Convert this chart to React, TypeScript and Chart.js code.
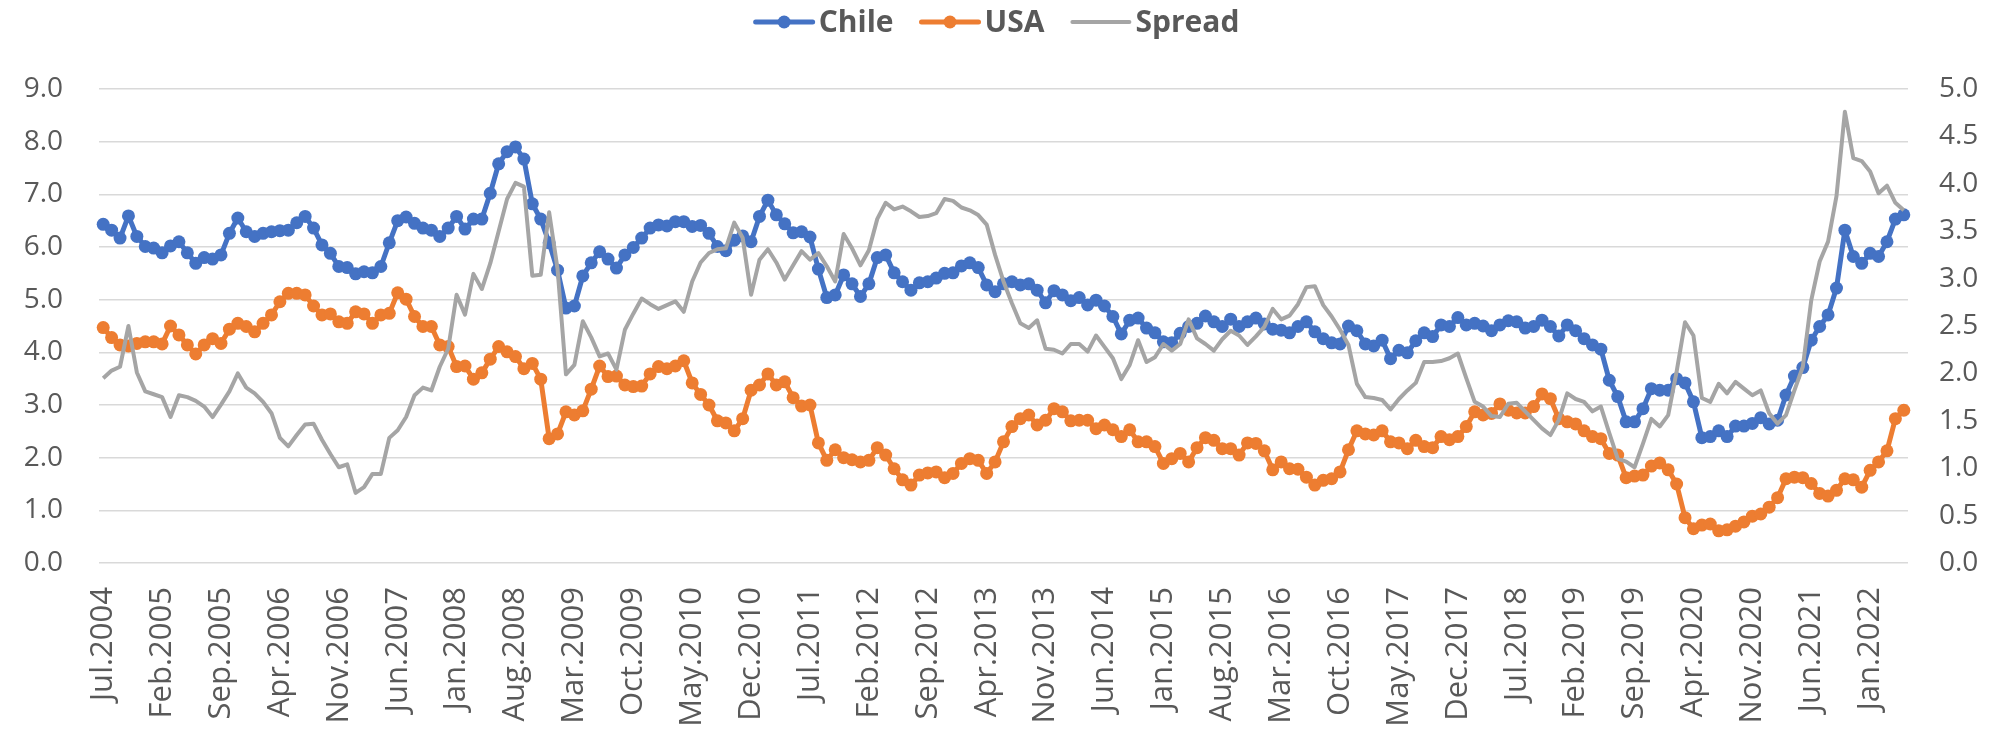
import React, { useEffect, useRef } from 'react';
import { Chart, registerables } from 'chart.js';

Chart.register(...registerables);

// Monthly categories: Jul.2004 ... May.2022
const MONTH_NAMES = ['Jan', 'Feb', 'Mar', 'Apr', 'May', 'Jun', 'Jul', 'Aug', 'Sep', 'Oct', 'Nov', 'Dec'];
const START_YEAR = 2004;
const START_MONTH_INDEX = 6; // Jul
const LABEL_STEP = 7;

const chile = [
  6.43, 6.32, 6.17, 6.59, 6.20, 6.01, 5.98, 5.89, 6.02, 6.10,
  5.89, 5.69, 5.80, 5.77, 5.85, 6.26, 6.55, 6.29, 6.20, 6.26,
  6.29, 6.31, 6.32, 6.46, 6.58, 6.36, 6.04, 5.88, 5.63, 5.61,
  5.49, 5.53, 5.51, 5.63, 6.08, 6.50, 6.57, 6.45, 6.36, 6.32,
  6.20, 6.36, 6.58, 6.34, 6.53, 6.53, 7.02, 7.58, 7.81, 7.90,
  7.67, 6.82, 6.53, 6.08, 5.56, 4.84, 4.88, 5.45, 5.70, 5.91,
  5.77, 5.60, 5.85, 5.99, 6.17, 6.36, 6.42, 6.40, 6.48, 6.48,
  6.39, 6.41, 6.26, 6.01, 5.93, 6.13, 6.21, 6.10, 6.58, 6.89,
  6.61, 6.44, 6.27, 6.29, 6.19, 5.58, 5.04, 5.09, 5.47, 5.30,
  5.06, 5.30, 5.80, 5.85, 5.51, 5.34, 5.18, 5.32, 5.34, 5.41,
  5.50, 5.51, 5.64, 5.70, 5.61, 5.28, 5.15, 5.30, 5.34, 5.28,
  5.30, 5.18, 4.94, 5.17, 5.09, 4.98, 5.04, 4.90, 4.99, 4.88,
  4.68, 4.35, 4.61, 4.65, 4.46, 4.37, 4.20, 4.18, 4.36, 4.49,
  4.55, 4.69, 4.58, 4.49, 4.63, 4.49, 4.58, 4.65, 4.54, 4.44,
  4.42, 4.37, 4.49, 4.58, 4.39, 4.26, 4.18, 4.16, 4.50, 4.41,
  4.16, 4.12, 4.23, 3.88, 4.04, 3.99, 4.22, 4.37, 4.30, 4.52,
  4.49, 4.66, 4.52, 4.55, 4.50, 4.41, 4.52, 4.60, 4.58, 4.46,
  4.49, 4.61, 4.49, 4.31, 4.52, 4.41, 4.26, 4.14, 4.06, 3.47,
  3.16, 2.68, 2.68, 2.93, 3.31, 3.28, 3.28, 3.50, 3.42, 3.06,
  2.38, 2.40, 2.51, 2.40, 2.60, 2.60, 2.65, 2.76, 2.64, 2.71,
  3.19, 3.55, 3.71, 4.23, 4.49, 4.71, 5.22, 6.32, 5.82, 5.69,
  5.88, 5.82, 6.10, 6.53, 6.61,
];

const usa = [
  4.47, 4.28, 4.14, 4.12, 4.17, 4.20, 4.20, 4.16, 4.50, 4.33,
  4.14, 3.97, 4.14, 4.26, 4.17, 4.44, 4.55, 4.49, 4.39, 4.55,
  4.71, 4.96, 5.12, 5.12, 5.09, 4.88, 4.71, 4.73, 4.58, 4.55,
  4.77, 4.73, 4.55, 4.71, 4.74, 5.13, 5.01, 4.68, 4.49, 4.49,
  4.14, 4.11, 3.73, 3.74, 3.49, 3.61, 3.87, 4.11, 4.01, 3.92,
  3.69, 3.79, 3.49, 2.36, 2.45, 2.87, 2.81, 2.89, 3.30, 3.74,
  3.54, 3.55, 3.38, 3.35, 3.36, 3.59, 3.73, 3.69, 3.74, 3.84,
  3.42, 3.20, 3.00, 2.70, 2.66, 2.51, 2.74, 3.28, 3.38, 3.59,
  3.38, 3.44, 3.14, 2.98, 3.00, 2.28, 1.95, 2.15, 2.00, 1.96,
  1.92, 1.95, 2.19, 2.05, 1.79, 1.58, 1.48, 1.67, 1.71, 1.73,
  1.62, 1.70, 1.89, 1.98, 1.95, 1.70, 1.92, 2.30, 2.59, 2.74,
  2.81, 2.62, 2.71, 2.93, 2.87, 2.70, 2.71, 2.71, 2.55, 2.62,
  2.53, 2.40, 2.53, 2.30, 2.30, 2.21, 1.89, 1.98, 2.08, 1.92,
  2.19, 2.38, 2.33, 2.17, 2.17, 2.05, 2.28, 2.27, 2.13, 1.77,
  1.92, 1.79, 1.78, 1.63, 1.48, 1.57, 1.60, 1.73, 2.15, 2.51,
  2.45, 2.43, 2.51, 2.30, 2.28, 2.17, 2.33, 2.21, 2.19, 2.40,
  2.34, 2.40, 2.59, 2.87, 2.81, 2.84, 3.02, 2.90, 2.85, 2.85,
  2.97, 3.21, 3.12, 2.74, 2.68, 2.64, 2.51, 2.40, 2.36, 2.08,
  2.05, 1.62, 1.65, 1.67, 1.84, 1.90, 1.77, 1.50, 0.86, 0.65,
  0.72, 0.74, 0.61, 0.63, 0.70, 0.78, 0.89, 0.93, 1.06, 1.24,
  1.60, 1.63, 1.62, 1.51, 1.32, 1.27, 1.38, 1.60, 1.58, 1.44,
  1.76, 1.92, 2.13, 2.74, 2.90,
];

const spread = [
  1.95, 2.03, 2.07, 2.50, 2.01, 1.81, 1.78, 1.75, 1.54, 1.77,
  1.75, 1.71, 1.65, 1.54, 1.67, 1.81, 2.00, 1.85, 1.79, 1.70,
  1.58, 1.32, 1.23, 1.35, 1.46, 1.47, 1.30, 1.15, 1.01, 1.04,
  0.74, 0.80, 0.94, 0.94, 1.32, 1.40, 1.54, 1.77, 1.85, 1.82,
  2.07, 2.26, 2.83, 2.62, 3.05, 2.89, 3.16, 3.50, 3.84, 4.01,
  3.97, 3.03, 3.04, 3.70, 3.10, 1.99, 2.09, 2.55, 2.38, 2.18,
  2.21, 2.04, 2.46, 2.63, 2.79, 2.73, 2.68, 2.72, 2.76, 2.65,
  2.97, 3.17, 3.27, 3.31, 3.32, 3.59, 3.43, 2.83, 3.20, 3.31,
  3.17, 2.99, 3.14, 3.29, 3.20, 3.27, 3.13, 2.97, 3.47, 3.32,
  3.14, 3.30, 3.63, 3.80, 3.73, 3.76, 3.71, 3.65, 3.66, 3.69,
  3.84, 3.82, 3.75, 3.72, 3.67, 3.57, 3.25, 2.97, 2.74, 2.53,
  2.48, 2.56, 2.26, 2.25, 2.21, 2.31, 2.31, 2.23, 2.40, 2.28,
  2.16, 1.94, 2.09, 2.35, 2.12, 2.17, 2.31, 2.24, 2.31, 2.57,
  2.37, 2.31, 2.24, 2.36, 2.45, 2.40, 2.30, 2.39, 2.49, 2.68,
  2.57, 2.61, 2.73, 2.91, 2.92, 2.72, 2.60, 2.46, 2.30, 1.89,
  1.75, 1.74, 1.72, 1.62, 1.73, 1.82, 1.90, 2.12, 2.12, 2.13,
  2.16, 2.21, 1.95, 1.70, 1.65, 1.55, 1.54, 1.68, 1.69, 1.60,
  1.51, 1.42, 1.35, 1.51, 1.79, 1.73, 1.70, 1.60, 1.65, 1.37,
  1.10, 1.07, 1.01, 1.26, 1.52, 1.44, 1.56, 2.02, 2.54, 2.40,
  1.74, 1.70, 1.89, 1.79, 1.91, 1.84, 1.77, 1.82, 1.58, 1.47,
  1.56, 1.82, 2.07, 2.77, 3.18, 3.39, 3.87, 4.76, 4.27, 4.24,
  4.13, 3.90, 3.98, 3.80, 3.72,
];

const categories = chile.map((_, i) => {
  const m = START_MONTH_INDEX + i;
  return `${MONTH_NAMES[m % 12]}.${START_YEAR + Math.floor(m / 12)}`;
});

const SERIES_NAMES = ['Chile', 'USA', 'Spread'];
const COLORS = ['#4472C4', '#ED7D31', '#A5A5A5'];
const TEXT_COLOR = '#595959';
const GRID_COLOR = '#D9D9D9';

const W = 1995;
const H = 738;

const lineLegendPlugin = {
  id: 'lineLegend',
  afterDraw(chart: any) {
    const ctx = chart.ctx as CanvasRenderingContext2D;
    const ds = chart.data.datasets;
    ctx.save();
    ctx.font = 'bold 30px "Open Sans"';
    ctx.textBaseline = 'middle';
    ctx.textAlign = 'left';
    const lineW = 57;
    const gapTxt = 6;
    const gapItem = 28;
    const widths = ds.map((d: any) => lineW + gapTxt + ctx.measureText(d.label).width);
    const total = widths.reduce((a: number, b: number) => a + b, 0) + gapItem * (ds.length - 1);
    let x = chart.width / 2 - total / 2;
    const y = 22;
    ds.forEach((d: any, i: number) => {
      ctx.strokeStyle = d.borderColor;
      ctx.lineWidth = d.borderWidth;
      ctx.lineCap = 'round';
      ctx.beginPath();
      ctx.moveTo(x, y);
      ctx.lineTo(x + lineW, y);
      ctx.stroke();
      if (d.pointRadius > 0) {
        ctx.fillStyle = d.borderColor;
        ctx.beginPath();
        ctx.arc(x + lineW / 2, y, d.pointRadius, 0, Math.PI * 2);
        ctx.fill();
      }
      ctx.fillStyle = TEXT_COLOR;
      ctx.fillText(d.label, x + lineW + gapTxt, y + 1);
      x += widths[i] + gapItem;
    });
    ctx.restore();
  },
};

export default function App() {
  const canvasRef = useRef<HTMLCanvasElement | null>(null);

  useEffect(() => {
    const canvas = canvasRef.current;
    if (!canvas) return;
    const chart = new Chart(canvas, {
      type: 'line',
      data: {
        labels: categories,
        datasets: [
          {
            label: SERIES_NAMES[0],
            data: chile,
            borderColor: COLORS[0],
            backgroundColor: COLORS[0],
            borderWidth: 5,
            pointRadius: 6.5,
            pointBorderWidth: 0,
            pointBackgroundColor: COLORS[0],
            borderJoinStyle: 'round',
            yAxisID: 'y',
            order: 2,
          },
          {
            label: SERIES_NAMES[1],
            data: usa,
            borderColor: COLORS[1],
            backgroundColor: COLORS[1],
            borderWidth: 5,
            pointRadius: 6.5,
            pointBorderWidth: 0,
            pointBackgroundColor: COLORS[1],
            borderJoinStyle: 'round',
            yAxisID: 'y',
            order: 1,
          },
          {
            label: SERIES_NAMES[2],
            data: spread,
            borderColor: COLORS[2],
            backgroundColor: COLORS[2],
            borderWidth: 4,
            pointRadius: 0,
            borderJoinStyle: 'round',
            yAxisID: 'y1',
            order: 0,
          },
        ],
      },
      options: {
        responsive: false,
        animation: false,
        events: [],
        layout: { padding: { top: 89, bottom: 0, left: 0, right: 0 } },
        plugins: {
          legend: { display: false },
          tooltip: { enabled: false },
        },
        scales: {
          x: {
            type: 'category',
            offset: true,
            grid: { display: false, drawTicks: false },
            border: { display: false },
            ticks: {
              autoSkip: false,
              maxRotation: 90,
              minRotation: 90,
              padding: 24,
              color: TEXT_COLOR,
              font: { family: '"Open Sans"', size: 31 },
              callback: (_v: any, idx: number) => (idx % LABEL_STEP === 0 ? categories[idx] : ''),
            },
            afterFit: (scale: any) => {
              scale.height = 175;
            },
          },
          y: {
            type: 'linear',
            position: 'left',
            min: 0,
            max: 9,
            grid: { color: GRID_COLOR, lineWidth: 1.5, drawTicks: false },
            border: { display: false },
            ticks: {
              stepSize: 1,
              padding: 36,
              color: TEXT_COLOR,
              font: { family: '"Open Sans"', size: 28 },
              callback: (v: any) => Number(v).toFixed(1),
            },
            afterFit: (scale: any) => {
              scale.width = 99;
            },
          },
          y1: {
            type: 'linear',
            position: 'right',
            min: 0,
            max: 5,
            grid: { display: false, drawTicks: false },
            border: { display: false },
            ticks: {
              stepSize: 0.5,
              padding: 31,
              color: TEXT_COLOR,
              font: { family: '"Open Sans"', size: 28 },
              callback: (v: any) => Number(v).toFixed(1),
            },
            afterFit: (scale: any) => {
              scale.width = 87;
            },
          },
        },
      },
      plugins: [lineLegendPlugin],
    });
    return () => chart.destroy();
  }, []);

  return (
    <div style={{ position: 'fixed', left: 0, top: 0, width: W, height: H, background: '#ffffff' }}>
      <canvas ref={canvasRef} width={W} height={H} style={{ width: W, height: H, display: 'block' }} />
    </div>
  );
}
